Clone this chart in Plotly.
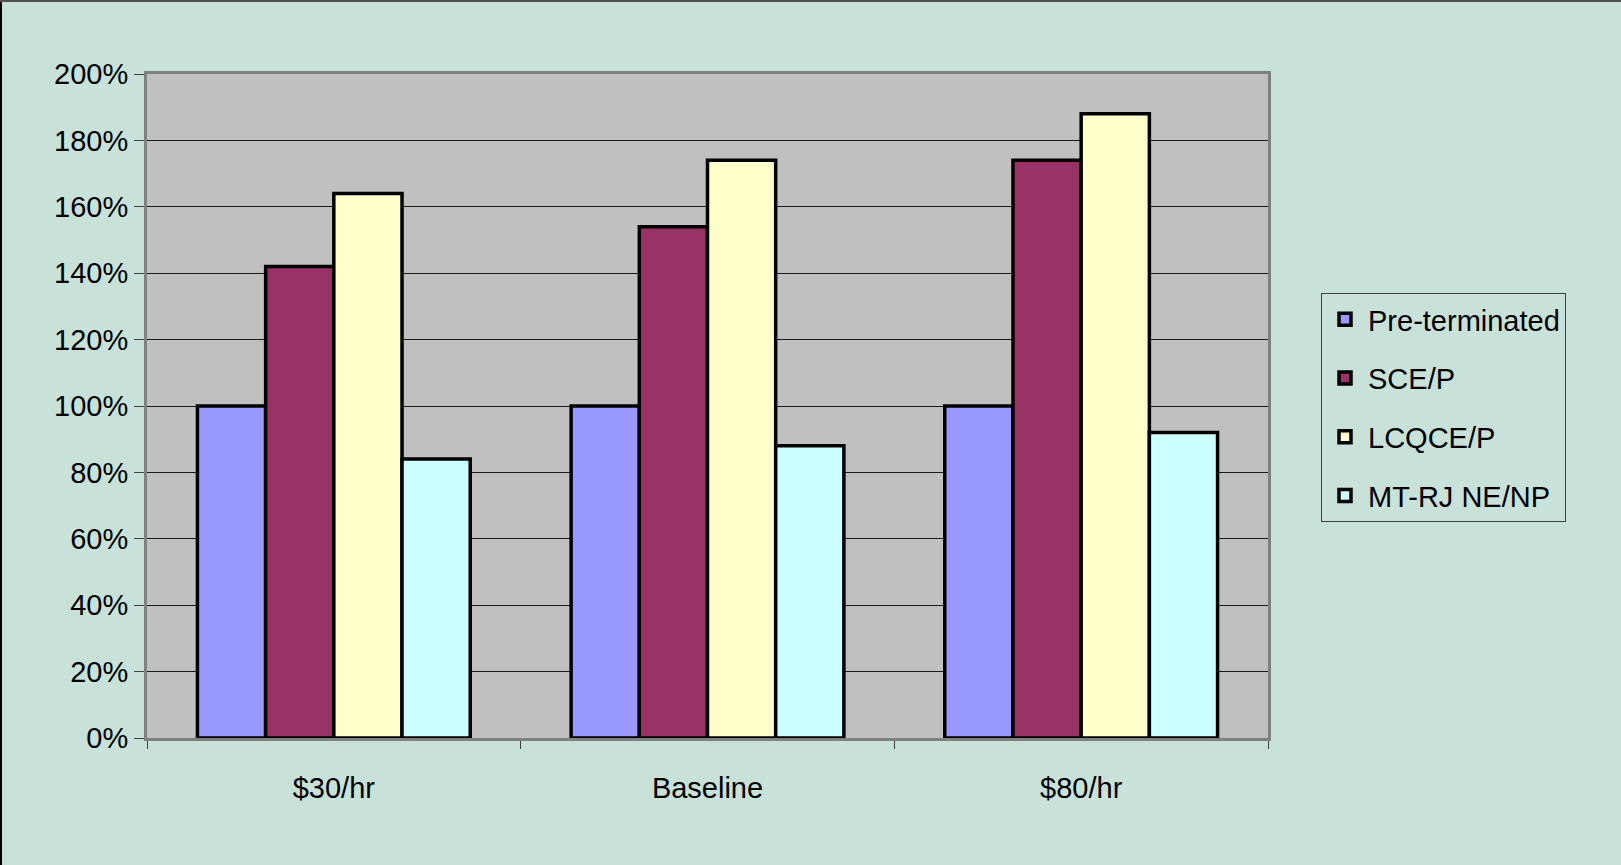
import plotly.graph_objects as go

categories = ["$30/hr", "Baseline", "$80/hr"]
series_names = ["Pre-terminated", "SCE/P", "LCQCE/P", "MT-RJ NE/NP"]
pre_terminated = [100, 100, 100]
sce_p = [142, 154, 174]
lcqce_p = [164, 174, 188]
mtrj_ne_np = [84, 88, 92]
y_ticks = [0, 20, 40, 60, 80, 100, 120, 140, 160, 180, 200]
y_tick_labels = [f"{v}%" for v in y_ticks]

colors = ["#9999FF", "#993366", "#FFFFCC", "#CCFFFF"]
all_values = [pre_terminated, sce_p, lcqce_p, mtrj_ne_np]

FONT = "Liberation Sans, Arial, sans-serif"

fig = go.Figure()
for name, vals, col in zip(series_names, all_values, colors):
    fig.add_trace(go.Bar(
        x=categories, y=vals, name=name, legendgroup=name,
        marker=dict(color=col, line=dict(color="black", width=3.5)),
    ))

W, H = 1621, 865
L, R, T, B = 147, 353, 74, 127
pw = W - L - R
ph = H - T - B

fig.update_layout(
    width=W, height=H,
    margin=dict(l=L, r=R, t=T, b=B, pad=0),
    paper_bgcolor="#C8E1D9",
    plot_bgcolor="#C0C0C0",
    barmode="group",
    bargap=0.27,
    bargroupgap=0,
    font=dict(family=FONT, size=29, color="black"),
    legend=dict(
        x=(1321 - L) / pw, y=(H - B - 293) / ph,
        xanchor="left", yanchor="top",
        bgcolor="#C8E1D9", bordercolor="#404040", borderwidth=1,
        font=dict(family=FONT, size=29, color="black"),
        tracegroupgap=18,
        traceorder="grouped",
        itemwidth=36,
    ),
    xaxis=dict(
        type="category",
        tickson="boundaries",
        ticks="outside", ticklen=8, tickcolor="#404040", tickwidth=1,
        showline=True, linecolor="#808080", linewidth=3, mirror=True,
        showgrid=False,
        ticklabelstandoff=22,
        tickfont=dict(family=FONT, size=29),
    ),
    yaxis=dict(
        range=[0, 200],
        tickvals=y_ticks, ticktext=y_tick_labels,
        ticks="outside", ticklen=10, tickcolor="#404040", tickwidth=1,
        showline=True, linecolor="#808080", linewidth=3, mirror=True,
        showgrid=True, gridcolor="#1a1a1a", gridwidth=1,
        zeroline=False,
        tickfont=dict(family=FONT, size=29),
    ),
    shapes=[
        dict(type="line", xref="paper", yref="paper",
             x0=-(L - 1) / pw, x1=-(L - 1) / pw, y0=-B / ph, y1=(ph + T) / ph,
             line=dict(color="black", width=2)),
        dict(type="line", xref="paper", yref="paper",
             x0=-L / pw, x1=(pw + R) / pw, y0=(ph + T - 1) / ph, y1=(ph + T - 1) / ph,
             line=dict(color="#505050", width=2)),
    ],
)

fig.write_html(
    "out.html",
    config={"displayModeBar": False},
    post_script="document.body.style.margin='0px';document.body.style.overflow='hidden';",
)
